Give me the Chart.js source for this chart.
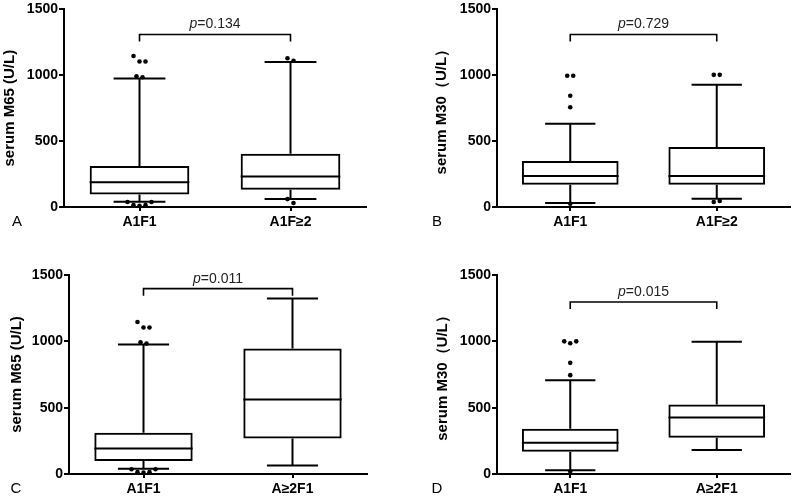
<!DOCTYPE html>
<html>
<head>
<meta charset="utf-8">
<script src="https://cdn.jsdelivr.net/npm/chart.js@4/dist/chart.umd.min.js"></script>
<style>
  body { margin: 0; background: #fff; }
  #wrap { position: relative; width: 800px; height: 499px; }
  canvas { position: absolute; }
</style>
</head>
<body>
<div id="wrap">
  <canvas id="chartA" width="400" height="250" style="left:0;top:0"></canvas>
  <canvas id="chartB" width="400" height="250" style="left:400px;top:0"></canvas>
  <canvas id="chartC" width="400" height="249" style="left:0;top:250px"></canvas>
  <canvas id="chartD" width="400" height="249" style="left:400px;top:250px"></canvas>
</div>
<script>
// categories
const groupsFibrosis = ["A1F1", "A1F\u22652"];
const groupsActivity = ["A1F1", "A\u22652F1"];
const yTicks = [0, 500, 1000, 1500];

// A: M65, A1F1 vs A1F>=2
const aLow = [40, 60];
const aQ1 = [95, 130];
const aMed = [188, 231];
const aQ3 = [311, 404];
const aHigh = [976, 1101];
const aOut = [[1146, 1104, 1104, 993, 985, 38, 14, 10, 14, 38], [1129, 1110, 60, 30]];

// B: M30, A1F1 vs A1F>=2
const bLow = [30, 63];
const bQ1 = [168, 168];
const bMed = [236, 236];
const bQ3 = [349, 456];
const bHigh = [632, 928];
const bOut = [[996, 996, 845, 757, 25], [1003, 1003, 38, 46]];

// C: M65, A1F1 vs A>=2F1
const cLow = [40, 65];
const cQ1 = [98, 268];
const cMed = [193, 562];
const cQ3 = [311, 946];
const cHigh = [976, 1322];
const cOut = [[1146, 1104, 1104, 993, 983, 36, 14, 10, 14, 36], []];

// D: M30, A1F1 vs A>=2F1
const dLow = [28, 181];
const dQ1 = [168, 273];
const dMed = [236, 426];
const dQ3 = [341, 524];
const dHigh = [707, 996];
const dOut = [[1000, 985, 1000, 838, 745, 18], []];

const pValues = ["0.134", "0.729", "0.011", "0.015"];

const FONT = "'Liberation Sans', Arial, sans-serif";

// whiskers, medians, outliers, bracket and panel letter
const boxExtras = {
    id: "boxExtras",
    afterDatasetsDraw(chart, args, opts) {
        const ctx = chart.ctx;
        const xs = chart.scales.x;
        const ys = chart.scales.y;
        const bars = chart.getDatasetMeta(0).data;
        ctx.save();
        ctx.strokeStyle = "#000";
        ctx.fillStyle = "#000";
        ctx.lineWidth = 2;
        opts.med.forEach((m, i) => {
            const x = xs.getPixelForValue(i);
            const w = bars[i].width;
            const cap = w * 0.52;
            ctx.beginPath();
            // median
            ctx.moveTo(x - w / 2, ys.getPixelForValue(m));
            ctx.lineTo(x + w / 2, ys.getPixelForValue(m));
            // whiskers
            ctx.moveTo(x, ys.getPixelForValue(opts.q3[i]));
            ctx.lineTo(x, ys.getPixelForValue(opts.high[i]));
            ctx.moveTo(x, ys.getPixelForValue(opts.q1[i]));
            ctx.lineTo(x, ys.getPixelForValue(opts.low[i]));
            // caps
            ctx.moveTo(x - cap / 2, ys.getPixelForValue(opts.high[i]));
            ctx.lineTo(x + cap / 2, ys.getPixelForValue(opts.high[i]));
            ctx.moveTo(x - cap / 2, ys.getPixelForValue(opts.low[i]));
            ctx.lineTo(x + cap / 2, ys.getPixelForValue(opts.low[i]));
            ctx.stroke();

            // outliers: close values are spread side by side
            const pts = opts.out[i];
            let cluster = [];
            const flush = () => {
                cluster.forEach((v, k) => {
                    const dx = (k - (cluster.length - 1) / 2) * 6;
                    ctx.beginPath();
                    ctx.arc(x + dx, ys.getPixelForValue(v), 2.3, 0, Math.PI * 2);
                    ctx.fill();
                });
                cluster = [];
            };
            pts.forEach(v => {
                if (cluster.length && Math.abs(v - cluster[cluster.length - 1]) > 60) flush();
                cluster.push(v);
            });
            flush();
        });

        // p value bracket
        const x0 = xs.getPixelForValue(0);
        const x1 = xs.getPixelForValue(1);
        const yb = ys.getPixelForValue(opts.bracket);
        ctx.lineWidth = 1.6;
        ctx.beginPath();
        ctx.moveTo(x0, yb + 7);
        ctx.lineTo(x0, yb);
        ctx.lineTo(x1, yb);
        ctx.lineTo(x1, yb + 7);
        ctx.stroke();

        ctx.fillStyle = "#222";
        ctx.textBaseline = "middle";
        ctx.font = "italic 14px " + FONT;
        const pw = ctx.measureText("p").width;
        ctx.font = "14px " + FONT;
        const rest = "=" + opts.p;
        const rw = ctx.measureText(rest).width;
        const tx = (x0 + x1) / 2 - (pw + rw) / 2;
        const ty = yb - 10;
        ctx.textAlign = "left";
        ctx.font = "italic 14px " + FONT;
        ctx.fillText("p", tx, ty);
        ctx.font = "14px " + FONT;
        ctx.fillText(rest, tx + pw, ty);

        // panel letter
        ctx.fillStyle = "#000";
        ctx.font = "15px " + FONT;
        ctx.textAlign = "center";
        ctx.fillText(opts.letter, opts.letterX, xs.top + 15);
        ctx.restore();
    }
};

function makePanel(id, cfg) {
    const canvas = document.getElementById(id);
    const H = canvas.height;
    return new Chart(canvas.getContext("2d"), {
        type: "bar",
        data: {
            labels: cfg.labels,
            datasets: [{
                data: cfg.q1.map((v, i) => [v, cfg.q3[i]]),
                backgroundColor: "rgba(255,255,255,0)",
                borderColor: "#000",
                borderWidth: 2,
                borderSkipped: false,
                barPercentage: 0.66,
                categoryPercentage: 1
            }]
        },
        options: {
            responsive: false,
            animation: false,
            events: [],
            layout: { autoPadding: false, padding: { left: cfg.padLeft, top: cfg.top, right: 400 - cfg.right, bottom: 0 } },
            plugins: {
                legend: { display: false },
                tooltip: { enabled: false },
                boxExtras: {
                    low: cfg.low, q1: cfg.q1, med: cfg.med, q3: cfg.q3, high: cfg.high,
                    out: cfg.out, p: cfg.p, bracket: cfg.bracket,
                    letter: cfg.letter, letterX: cfg.letterX
                }
            },
            scales: {
                x: {
                    offset: true,
                    afterFit: s => { s.height = H - cfg.bottom; },
                    grid: { offset: false, drawOnChartArea: false, drawTicks: true, tickLength: 4, color: "#000", lineWidth: 2 },
                    border: { color: "#000", width: 2 },
                    ticks: { color: "#000", padding: 3, font: { family: FONT, size: 14, weight: "bold" } }
                },
                y: {
                    min: 0,
                    max: 1500,
                    afterBuildTicks: s => { s.ticks = yTicks.map(v => ({ value: v })); },
                    afterFit: s => { s.width = cfg.axisX - cfg.padLeft; },
                    grid: { drawOnChartArea: false, drawTicks: true, tickLength: 5, color: "#000", lineWidth: 2 },
                    border: { color: "#000", width: 2 },
                    ticks: { color: "#000", padding: 1, callback: v => String(v), font: { family: FONT, size: 14, weight: "bold" } },
                    title: { display: true, text: cfg.title, color: "#000", padding: 0, font: { family: FONT, size: 15, weight: "bold" } }
                }
            }
        },
        plugins: [boxExtras]
    });
}

makePanel("chartA", {
    labels: groupsFibrosis, low: aLow, q1: aQ1, med: aMed, q3: aQ3, high: aHigh, out: aOut,
    p: pValues[0], bracket: 1309, letter: "A", letterX: 17,
    title: "serum M65 (U/L)", padLeft: 1, axisX: 64, top: 8, bottom: 207, right: 366
});
makePanel("chartB", {
    labels: groupsFibrosis, low: bLow, q1: bQ1, med: bMed, q3: bQ3, high: bHigh, out: bOut,
    p: pValues[1], bracket: 1309, letter: "B", letterX: 37,
    title: "serum M30\uff08U/L\uff09", padLeft: 33, axisX: 97, top: 8, bottom: 207, right: 390
});
makePanel("chartC", {
    labels: groupsActivity, low: cLow, q1: cQ1, med: cMed, q3: cQ3, high: cHigh, out: cOut,
    p: pValues[2], bracket: 1397, letter: "C", letterX: 16,
    title: "serum M65 (U/L)", padLeft: 8, axisX: 69, top: 25, bottom: 224, right: 367
});
makePanel("chartD", {
    labels: groupsActivity, low: dLow, q1: dQ1, med: dMed, q3: dQ3, high: dHigh, out: dOut,
    p: pValues[3], bracket: 1297, letter: "D", letterX: 37,
    title: "serum M30\uff08U/L\uff09", padLeft: 34, axisX: 97, top: 25, bottom: 224, right: 390
});
</script>
</body>
</html>
